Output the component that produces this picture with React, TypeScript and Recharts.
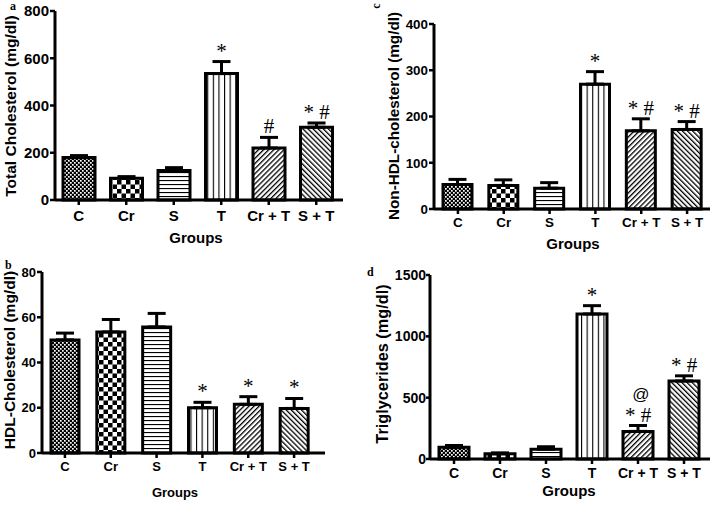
import React from 'react'
import { BarChart, Bar, XAxis, YAxis, ErrorBar, Cell, LabelList } from 'recharts'

// groups and values (mean and upward SEM)
const groups = ['C', 'Cr', 'S', 'T', 'Cr + T', 'S + T']

const totalChol = [180, 92, 125, 535, 220, 308]
const totalCholSem = [8, 7, 12, 51, 45, 18]
const totalCholMarks = ['', '', '', '*', '#', '* #']

const hdlChol = [50, 53.5, 55.7, 20, 21.5, 19.7]
const hdlCholSem = [3, 5.5, 6, 2.4, 3.4, 4.4]
const hdlCholMarks = ['', '', '', '*', '*', '*']

const nonHdlChol = [53, 51, 45, 270, 169, 172]
const nonHdlCholSem = [11, 12, 12, 27, 26, 17]
const nonHdlCholMarks = ['', '', '', '*', '* #', '* #']

const triglycerides = [95, 42, 80, 1182, 225, 636]
const triglyceridesSem = [15, 8, 20, 68, 48, 42]
const triglyceridesMarks = ['', '', '', '*', '* #', '* #']
const triglyceridesExtra = ['', '', '', '', '@', '']

const totalCholTicks = [0, 200, 400, 600, 800]
const hdlCholTicks = [0, 20, 40, 60, 80]
const nonHdlCholTicks = [0, 100, 200, 300, 400]
const triglyceridesTicks = [0, 500, 1000, 1500]

const fills = ['dots', 'check', 'hlines', 'vlines', 'diagUp', 'diagDown']

const SANS = '"Liberation Sans", Arial, sans-serif'
const SERIF = '"Liberation Serif", "Times New Roman", serif'

function buildRows(values: number[], sem: number[], marks: string[], extra?: string[]) {
  return groups.map((g, i) => ({
    group: g,
    value: values[i],
    sem: sem[i],
    err: [0, sem[i]],
    mark: marks[i],
    extra: extra ? extra[i] : '',
  }))
}

const markContent = (props: any) => {
  const { x, y, width, height, value } = props
  const row = value
  if (!row || !row.mark) return null
  const cx = x + width / 2
  const capY = y - (row.sem * height) / row.value
  const base = capY - 4
  return (
    <g>
      <text x={cx} y={base} textAnchor="middle" fontSize={21} fontFamily={SERIF} fill="#000">
        {row.mark}
      </text>
      {row.extra ? (
        <text x={cx + 3} y={base - 22} textAnchor="middle" fontSize={17} fontFamily={SANS} fill="#000">
          {row.extra}
        </text>
      ) : null}
    </g>
  )
}

interface PanelProps {
  left: number
  top: number
  margin: { top: number; right: number; bottom: number; left: number }
  rows: any[]
  domain: number[]
  ticks: number[]
  barSize: number
  padding: { left: number; right: number }
  fontSize: number
  xTickMargin: number
  yTickSize: number
  yTickMargin: number
}

function Panel(p: PanelProps) {
  const m = p.margin
  return (
    <div style={{ position: 'absolute', left: p.left, top: p.top }}>
      <BarChart
        width={357}
        height={252}
        data={p.rows}
        margin={{ top: m.top, right: m.right, bottom: 2, left: 2 }}
        barSize={p.barSize}
      >
        <XAxis
          dataKey="group"
          height={m.bottom - 2}
          interval={0}
          padding={p.padding}
          axisLine={{ stroke: '#000', strokeWidth: 3 }}
          tickLine={{ stroke: '#000', strokeWidth: 2.5 }}
          tickSize={5}
          tickMargin={p.xTickMargin}
          tick={{ fill: '#000', fontSize: p.fontSize, fontWeight: 'bold', fontFamily: SANS }}
        />
        <YAxis
          width={m.left - 2}
          domain={p.domain}
          ticks={p.ticks}
          interval={0}
          axisLine={{ stroke: '#000', strokeWidth: 3 }}
          tickLine={{ stroke: '#000', strokeWidth: 2.5 }}
          tickSize={p.yTickSize}
          tickMargin={p.yTickMargin}
          tick={{ fill: '#000', fontSize: p.fontSize, fontWeight: 'bold', fontFamily: SANS }}
        />
        <Bar dataKey="value" stroke="#000" strokeWidth={3} isAnimationActive={false}>
          {p.rows.map((r, i) => (
            <Cell key={r.group} fill={`url(#${fills[i]})`} />
          ))}
          <ErrorBar dataKey="err" direction="y" width={9} stroke="#000" strokeWidth={3} />
          <LabelList dataKey={(d: any) => d} content={markContent} />
        </Bar>
      </BarChart>
    </div>
  )
}

function Patterns() {
  return (
    <svg width={0} height={0} style={{ position: 'absolute' }}>
      <defs>
        <pattern id="dots" width={4} height={4} patternUnits="userSpaceOnUse">
          <rect width={4} height={4} fill="#000" />
          <rect x={0} y={0} width={1.7} height={1.7} fill="#fff" />
          <rect x={2} y={2} width={1.7} height={1.7} fill="#fff" />
        </pattern>
        <pattern id="check" width={9} height={9} patternUnits="userSpaceOnUse">
          <rect width={9} height={9} fill="#fff" />
          <rect width={4.5} height={4.5} fill="#000" />
          <rect x={4.5} y={4.5} width={4.5} height={4.5} fill="#000" />
        </pattern>
        <pattern id="hlines" width={4} height={4} patternUnits="userSpaceOnUse">
          <rect width={4} height={4} fill="#fff" />
          <rect width={4} height={1.1} fill="#000" />
        </pattern>
        <pattern id="vlines" width={5.6} height={4} patternUnits="userSpaceOnUse">
          <rect width={5.6} height={4} fill="#fff" />
          <rect width={1.1} height={4} fill="#000" />
        </pattern>
        <pattern id="diagUp" width={3.6} height={4} patternUnits="userSpaceOnUse" patternTransform="rotate(45)">
          <rect width={3.6} height={4} fill="#fff" />
          <rect width={1.3} height={4} fill="#000" />
        </pattern>
        <pattern id="diagDown" width={3.6} height={4} patternUnits="userSpaceOnUse" patternTransform="rotate(-45)">
          <rect width={3.6} height={4} fill="#fff" />
          <rect width={1.3} height={4} fill="#000" />
        </pattern>
      </defs>
    </svg>
  )
}

function Titles() {
  const t = { fontFamily: SANS, fontWeight: 'bold' as const, fill: '#000' }
  return (
    <svg width={714} height={505} style={{ position: 'absolute', left: 0, top: 0, pointerEvents: 'none' }}>
      <text x={10} y={10} fontSize={12} fontWeight="bold" fontFamily={SERIF}>a</text>
      <text x={5} y={269} fontSize={12} fontWeight="bold" fontFamily={SERIF}>b</text>
      <text transform="translate(376,6) rotate(-90)" fontSize={12} fontWeight="bold" fontFamily={SERIF} textAnchor="middle" dominantBaseline="central">c</text>
      <text x={367} y={276} fontSize={12} fontWeight="bold" fontFamily={SERIF}>d</text>

      <text {...t} fontSize={15.5} textAnchor="middle" dominantBaseline="central" transform="translate(10,106) rotate(-90)">Total Cholesterol (mg/dl)</text>
      <text {...t} fontSize={15.5} textAnchor="middle" dominantBaseline="central" transform="translate(9,360) rotate(-90)">HDL-Cholesterol (mg/dl)</text>
      <text {...t} fontSize={15.3} textAnchor="middle" dominantBaseline="central" transform="translate(393,116) rotate(-90)">Non-HDL-cholesterol (mg/dl)</text>
      <text {...t} fontSize={16.3} textAnchor="middle" dominantBaseline="central" transform="translate(381.5,364) rotate(-90)">Triglycerides (mg/dl)</text>

      <text {...t} fontSize={15} textAnchor="middle" x={196} y={243}>Groups</text>
      <text {...t} fontSize={13} textAnchor="middle" x={175} y={497}>Groups</text>
      <text {...t} fontSize={15} textAnchor="middle" x={573} y={249}>Groups</text>
      <text {...t} fontSize={15} textAnchor="middle" x={569} y={496}>Groups</text>
    </svg>
  )
}

export default function App() {
  return (
    <div style={{ position: 'absolute', left: 0, top: 0, width: 714, height: 505, background: '#fff' }}>
      <Patterns />
      <Panel
        left={0}
        top={0}
        margin={{ top: 11, right: 14, bottom: 52, left: 55 }}
        rows={buildRows(totalChol, totalCholSem, totalCholMarks)}
        domain={[0, 800]}
        ticks={totalCholTicks}
        barSize={32}
        padding={{ left: 0, right: 3 }}
        fontSize={15}
        xTickMargin={5}
        yTickSize={5}
        yTickMargin={1}
      />
      <Panel
        left={357}
        top={0}
        margin={{ top: 24, right: 4, bottom: 43, left: 77 }}
        rows={buildRows(nonHdlChol, nonHdlCholSem, nonHdlCholMarks)}
        domain={[0, 400]}
        ticks={nonHdlCholTicks}
        barSize={29}
        padding={{ left: 1, right: 0 }}
        fontSize={13.4}
        xTickMargin={3}
        yTickSize={5}
        yTickMargin={1}
      />
      <Panel
        left={0}
        top={252}
        margin={{ top: 20, right: 32, bottom: 51, left: 42 }}
        rows={buildRows(hdlChol, hdlCholSem, hdlCholMarks)}
        domain={[0, 80]}
        ticks={hdlCholTicks}
        barSize={28}
        padding={{ left: 0, right: 8 }}
        fontSize={13}
        xTickMargin={4}
        yTickSize={5}
        yTickMargin={1}
      />
      <Panel
        left={357}
        top={252}
        margin={{ top: 23, right: 4, bottom: 45, left: 73 }}
        rows={buildRows(triglycerides, triglyceridesSem, triglyceridesMarks, triglyceridesExtra)}
        domain={[0, 1500]}
        ticks={triglyceridesTicks}
        barSize={30}
        padding={{ left: 1, right: 3 }}
        fontSize={14}
        xTickMargin={4}
        yTickSize={4}
        yTickMargin={0}
      />
      <Titles />
    </div>
  )
}
